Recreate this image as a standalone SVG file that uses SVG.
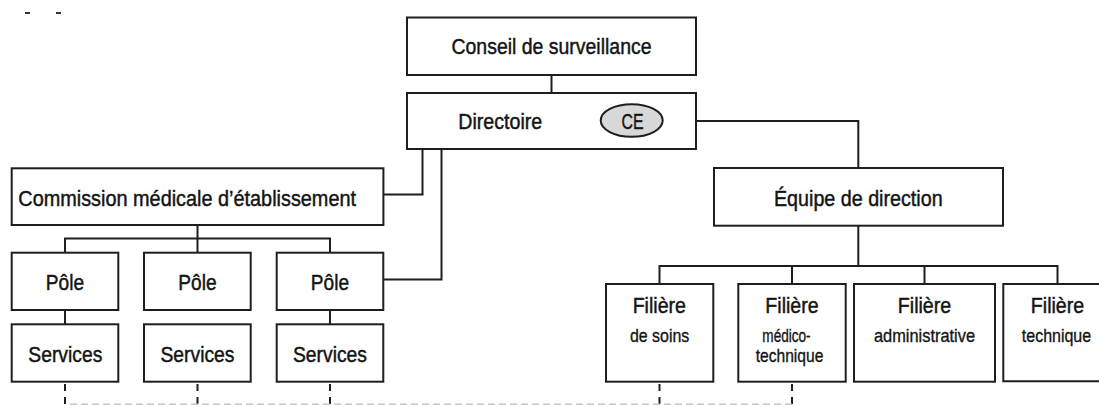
<svg xmlns="http://www.w3.org/2000/svg" width="1099" height="405" viewBox="0 0 1099 405">
<style>
.box{fill:#fff;stroke:#1e1e1e;stroke-width:2}
.ln{fill:none;stroke:#1e1e1e;stroke-width:2}
.dash{fill:none;stroke:#1e1e1e;stroke-width:2;stroke-dasharray:7 6}
.hdash{fill:none;stroke:#c4c4c4;stroke-width:1.5;stroke-dasharray:7 4}
text{font-family:"Liberation Sans Narrow","Liberation Sans",Arial,sans-serif;fill:#141414;stroke:#141414;stroke-width:0.45}
.big{font-size:22px}
.sm{font-size:18.5px;stroke-width:0.35}
.c{text-anchor:middle}
</style>
<rect width="1099" height="405" fill="#fff"/>
<g id="marks">
<line x1="25" y1="13" x2="30" y2="13" stroke="#333" stroke-width="2"/>
<line x1="56" y1="13" x2="61" y2="13" stroke="#333" stroke-width="2"/>
</g>
<g id="connectors">
<path class="ln" d="M551.5 75V93"/>
<path class="ln" d="M662.7 121H858.3V168"/>
<path class="ln" d="M422.5 149V194.5H383.5"/>
<path class="ln" d="M441.5 149V279.5H383.5"/>
<path class="ln" d="M197.5 225V252.7M65 238.5H330M65 237.5V252.7M330 237.5V252.7"/>
<path class="ln" d="M65 310V324.5M330 310V324.5"/>
<path class="ln" d="M858.3 226V266M659.5 266H1057.5M659.5 265V284M792 266V284M924.5 266V284M1057.5 265V284"/>
<path class="dash" d="M65 384V405M197.5 384V405M330 384V405M659.5 384V405M792 384V405"/>
<path class="hdash" d="M70 404.3H792"/>
</g>
<g id="conseil">
<rect class="box" x="407" y="17.5" width="289" height="57.5"/>
<text class="big c" x="551.5" y="54.3" textLength="200" lengthAdjust="spacingAndGlyphs">Conseil de surveillance</text>
</g>
<g id="directoire">
<rect class="box" x="407" y="93" width="289" height="56"/>
<text class="big" x="458.3" y="129.3" textLength="84" lengthAdjust="spacingAndGlyphs">Directoire</text>
</g>
<g id="ce">
<ellipse cx="631.7" cy="120.5" rx="31" ry="16.3" fill="#d8d8d8" stroke="#1e1e1e" stroke-width="2"/>
<text class="big c" x="632.5" y="129" textLength="22" lengthAdjust="spacingAndGlyphs">CE</text>
</g>
<g id="commission">
<rect class="box" x="11.7" y="168.3" width="371.7" height="56.7"/>
<text class="big" x="18.3" y="206" textLength="337.7" lengthAdjust="spacingAndGlyphs">Commission médicale d’établissement</text>
</g>
<g id="equipe">
<rect class="box" x="714" y="168" width="289" height="57.7"/>
<text class="big c" x="858.3" y="206" textLength="168.7" lengthAdjust="spacingAndGlyphs">Équipe de direction</text>
</g>
<g id="pole1">
<rect class="box" x="11.7" y="252.7" width="106.6" height="57.3"/>
<text class="big c" x="65" y="290" textLength="38.3" lengthAdjust="spacingAndGlyphs">Pôle</text>
</g>
<g id="pole2">
<rect class="box" x="144" y="252.7" width="106.7" height="57.3"/>
<text class="big c" x="197.5" y="290" textLength="38.3" lengthAdjust="spacingAndGlyphs">Pôle</text>
</g>
<g id="pole3">
<rect class="box" x="276.7" y="252.7" width="106.6" height="57.3"/>
<text class="big c" x="330" y="290" textLength="38.3" lengthAdjust="spacingAndGlyphs">Pôle</text>
</g>
<g id="services1">
<rect class="box" x="11.7" y="324.3" width="106.6" height="57.4"/>
<text class="big c" x="65.3" y="361.7" textLength="74" lengthAdjust="spacingAndGlyphs">Services</text>
</g>
<g id="services2">
<rect class="box" x="144" y="324.3" width="106.7" height="57.4"/>
<text class="big c" x="197.5" y="361.7" textLength="74" lengthAdjust="spacingAndGlyphs">Services</text>
</g>
<g id="services3">
<rect class="box" x="276.7" y="324.3" width="106.6" height="57.4"/>
<text class="big c" x="330" y="361.7" textLength="74" lengthAdjust="spacingAndGlyphs">Services</text>
</g>
<g id="filiere-soins">
<rect class="box" x="606" y="284" width="107.3" height="97.7"/>
<text class="big c" x="659.3" y="313.3" textLength="53.3" lengthAdjust="spacingAndGlyphs">Filière</text>
<text class="sm c" x="659.6" y="342.3" textLength="59.3" lengthAdjust="spacingAndGlyphs">de soins</text>
</g>
<g id="filiere-medico">
<rect class="box" x="738.3" y="284" width="107.4" height="97.7"/>
<text class="big c" x="792" y="313.3" textLength="53.3" lengthAdjust="spacingAndGlyphs">Filière</text>
<text class="sm c" x="786.5" y="342.3" textLength="48.3" lengthAdjust="spacingAndGlyphs">médico-</text>
<text class="sm c" x="789.5" y="361.7" textLength="67.7" lengthAdjust="spacingAndGlyphs">technique</text>
</g>
<g id="filiere-admin">
<rect class="box" x="854" y="284" width="141" height="97.7"/>
<text class="big c" x="924.5" y="313.3" textLength="53.3" lengthAdjust="spacingAndGlyphs">Filière</text>
<text class="sm c" x="924.5" y="341.7" textLength="101" lengthAdjust="spacingAndGlyphs">administrative</text>
</g>
<g id="filiere-tech">
<path class="box" d="M1099 284H1003.3V381.3H1099"/>
<text class="big c" x="1057.5" y="313.3" textLength="53.3" lengthAdjust="spacingAndGlyphs">Filière</text>
<text class="sm c" x="1056.5" y="341.7" textLength="69.3" lengthAdjust="spacingAndGlyphs">technique</text>
</g>
</svg>
